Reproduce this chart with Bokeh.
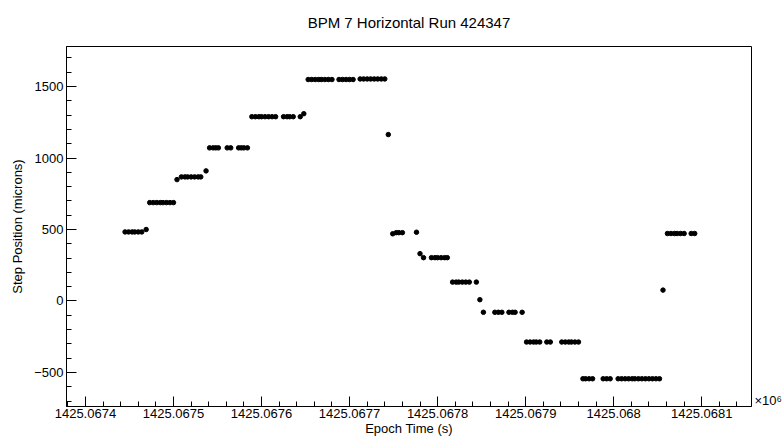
from bokeh.plotting import figure
from bokeh.models import FixedTicker, Range1d, LinearAxis, Title
from bokeh.embed import file_html
from bokeh.resources import INLINE

# ---- data (times in seconds since 1425067400, positions in microns) ----
T0 = 1425067400
t_offset = [
    45, 49, 53, 56, 60, 64, 69,
    73, 77, 81, 85, 88, 92, 96, 100,
    104, 109, 113, 116, 120, 124, 128, 131, 137,
    141, 145, 148, 151, 161, 165, 174, 177, 180, 184,
    189, 193, 197, 200, 204, 208, 212, 216, 225, 229, 232, 236, 244, 248,
    253, 257, 261, 265, 268, 272, 276, 280, 288, 292, 296, 300, 304,
    312, 316, 320, 324, 328, 332, 336, 340,
    344,
    349, 353, 356, 360, 376,
    380, 384, 393, 397, 400, 404, 408, 411,
    417, 421, 424, 428, 432, 436, 444,
    448,
    452, 465, 469, 473, 481, 485, 488, 496,
    501, 505, 509, 512, 516, 524, 528, 541, 545, 549, 552, 556, 560,
    565, 568, 572, 576, 588, 592, 596,
    605, 609, 613, 617, 621, 624, 628, 632, 636, 640, 644, 648, 652,
    656,
    661, 665, 669, 672, 676, 680, 688, 692,
]
position = [
    483, 483, 483, 483, 483, 483, 500,
    688, 688, 688, 688, 688, 688, 688, 688,
    849, 868, 868, 868, 868, 868, 868, 868, 910,
    1071, 1071, 1071, 1071, 1071, 1071, 1071, 1071, 1071, 1071,
    1289, 1289, 1289, 1289, 1289, 1289, 1289, 1289, 1289, 1289, 1289, 1289, 1289, 1310,
    1549, 1549, 1549, 1549, 1549, 1549, 1549, 1549, 1549, 1549, 1549, 1549, 1549,
    1553, 1553, 1553, 1553, 1553, 1553, 1553, 1553,
    1164,
    470, 478, 478, 478, 481,
    331, 303, 303, 303, 303, 303, 303, 303,
    132, 132, 132, 132, 132, 132, 132,
    9,
    -79, -79, -79, -79, -79, -79, -79, -79,
    -287, -287, -287, -287, -287, -287, -287, -287, -287, -287, -287, -287, -287,
    -544, -544, -544, -544, -544, -544, -544,
    -544, -544, -544, -544, -544, -544, -544, -544, -544, -544, -544, -544, -544,
    76,
    472, 472, 472, 472, 472, 472, 472, 472,
]
x_tick_values = [1425067400, 1425067500, 1425067600, 1425067700,
                 1425067800, 1425067900, 1425068000, 1425068100]
x_tick_labels = ["1425.0674", "1425.0675", "1425.0676", "1425.0677",
                 "1425.0678", "1425.0679", "1425.068", "1425.0681"]
y_tick_values = [-500, 0, 500, 1000, 1500]

TITLE = "BPM 7 Horizontal Run 424347"
X_LABEL = "Epoch Time (s)"
Y_LABEL = "Step Position (microns)"
EXPONENT_LABEL = "\u00d710\u2076"

X_START, X_END = 1425067378.5, 1425068156.5
Y_START, Y_END = -738, 1780

x = [T0 + t for t in t_offset]

FONT = "Liberation Sans"

p = figure(width=784, height=444, output_backend="svg", toolbar_location=None,
           x_range=Range1d(X_START, X_END), y_range=Range1d(Y_START, Y_END),
           min_border_left=66, min_border_right=30, min_border_top=46,
           min_border_bottom=38)

p.scatter(x, position, size=4.5, color="black", marker="circle")

x_minor = list(range(1425067380, 1425068160, 20))
y_minor = list(range(-700, 1800, 100))
p.xaxis.ticker = FixedTicker(ticks=x_tick_values, minor_ticks=x_minor)
p.yaxis.ticker = FixedTicker(ticks=y_tick_values, minor_ticks=y_minor)
p.xaxis.major_label_overrides = {v: l for v, l in zip(x_tick_values, x_tick_labels)}

for ax in (p.xaxis, p.yaxis):
    ax.axis_line_color = "black"
    ax.major_tick_in = 10
    ax.major_tick_out = 0
    ax.minor_tick_in = 5
    ax.minor_tick_out = 0
    ax.major_tick_line_color = "black"
    ax.minor_tick_line_color = "black"
    ax.major_label_text_font = FONT
    ax.major_label_text_font_size = "13px"
    ax.major_label_text_color = "black"
    ax.axis_label_text_font = FONT
    ax.axis_label_text_font_size = "13px"
    ax.axis_label_text_font_style = "normal"
    ax.axis_label_text_color = "black"
    ax.major_label_standoff = 3

p.xaxis.major_label_standoff = 2
p.xaxis.axis_label = X_LABEL
p.yaxis.axis_label = Y_LABEL
p.xaxis.axis_label_standoff = 0
p.yaxis.axis_label_standoff = 6

# exponent marker "x10^6" at the right end of the x axis
exp_tick = -696
rax = LinearAxis(ticker=FixedTicker(ticks=[exp_tick], minor_ticks=[]),
                 major_label_overrides={exp_tick: EXPONENT_LABEL},
                 axis_line_color=None, major_tick_line_color=None,
                 minor_tick_line_color=None, major_tick_in=0, major_tick_out=0,
                 minor_tick_in=0, minor_tick_out=0, major_label_standoff=3,
                 major_label_text_font=FONT, major_label_text_font_size="13px",
                 major_label_text_color="black")
p.add_layout(rax, "right")

p.xgrid.visible = False
p.ygrid.visible = False
p.outline_line_color = "black"
p.outline_line_width = 1
p.background_fill_color = "white"
p.border_fill_color = "white"

# plot title, with a small blank spacer between it and the frame
p.title = None
p.add_layout(Title(text=" ", text_font_size="8px", standoff=0), "above")
p.add_layout(Title(text=TITLE, align="center", text_font=FONT,
                   text_font_size="15px", text_font_style="normal",
                   text_color="black"), "above")

open("out.html", "w").write(file_html(p, INLINE))
